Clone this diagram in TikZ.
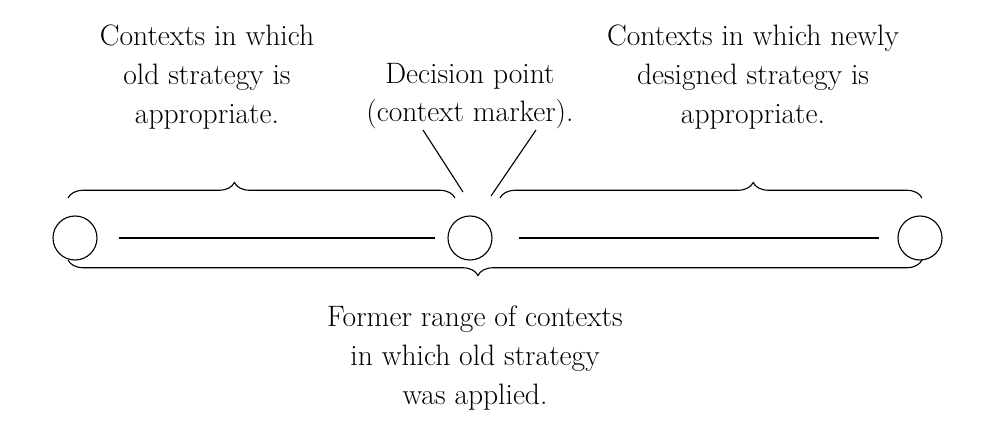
\documentclass[tikz,border=0pt]{standalone}
\usepackage{tikz}
\usetikzlibrary{decorations.pathreplacing}
\tikzset{
  ctx/.style={draw, circle, thick, minimum size=44*0.025cm, inner sep=0pt},
  lbl/.style={align=center, font=\fontsize{21}{27.5}\selectfont},
  brc/.style={thick, decorate, decoration={brace, amplitude=11pt, aspect=#1}}
}
\begin{document}
\begin{tikzpicture}[x=0.025cm, y=-0.025cm]
        \useasboundingbox (0,0) rectangle (987,427);

        \node[ctx] (old) at (75,238) {};
        \node[ctx] (dec) at (470,238) {};
        \node[ctx] (new) at (920,238) {};

        \draw[thick] ([xshift=15]old.east) -- ([xshift=-9]dec.west);
        \draw[thick] ([xshift=19]dec.east) -- ([xshift=-13]new.west);

        \draw[brc=0.43] (68,198) -- (455,198);
        \draw[brc=0.60] (500,198) -- (922,198);
        \draw[brc=0.52] (922,260) -- (68,260);

        \node[lbl] (told) at (207,77) {Contexts in which\\old strategy is\\appropriate.};
        \node[lbl] (tdec) at (470,96) {Decision point\\(context marker).};
        \node[lbl] (tnew) at (753,77) {Contexts in which newly\\designed strategy is\\appropriate.};
        \node[lbl] (tform) at (475,358) {Former range of contexts\\in which old strategy\\was applied.};

        \coordinate (p1) at (423,130);
        \coordinate (p2) at (463,192);
        \coordinate (p3) at (536,130);
        \coordinate (p4) at (491,196);
        \draw[thick] (p1) -- (p2);
        \draw[thick] (p3) -- (p4);
      \end{tikzpicture}
\end{document}
